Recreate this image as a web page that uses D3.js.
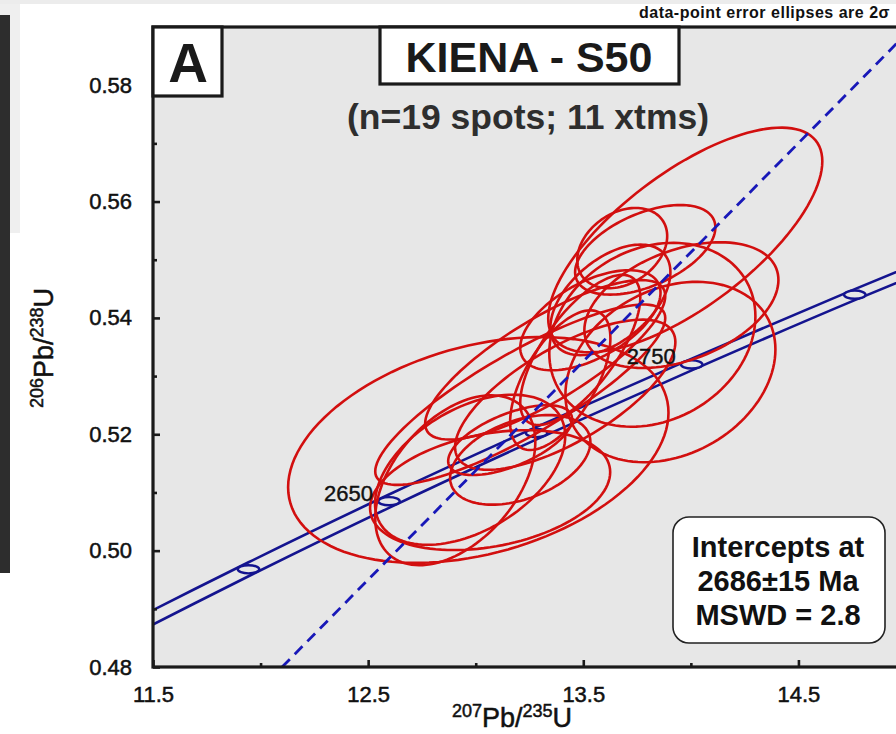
<!DOCTYPE html>
<html>
<head>
<meta charset="utf-8">
<script src="https://cdn.jsdelivr.net/npm/d3@7"></script>
<style>
  body { margin: 0; background: #fff; }
  svg { display: block; font-family: "Liberation Sans", Arial, sans-serif; }
</style>
</head>
<body>
<div id="chart"></div>
<script>
// concordia (age in Ma, 207Pb/235U, 206Pb/238U) and its error band half-width
const concAges = [2550, 2600, 2650, 2700, 2750, 2800, 2850];
const concX = [11.322, 11.944, 12.597, 13.283, 14.004, 14.762, 15.557];
const concY = [0.4852, 0.4968, 0.5085, 0.5202, 0.5320, 0.5440, 0.5560];
const concBand = [0.00125, 0.00120, 0.00114, 0.00107, 0.00101, 0.00095, 0.00090];
const markerAges = [2600, 2650, 2700, 2750, 2800];
const labelAges = [2650, 2750];

// discordia (dashed)
const discX = [12.1, 15.0];
const discY = [0.48, 0.5888];

// data-point error ellipses: centre, half extents, correlation
const ellCx = [13.012, 13.974, 13.788, 13.681, 13.956, 13.905, 13.207, 12.974, 13.067, 13.323,
               13.393, 13.486, 13.416, 13.626, 13.207, 13.160, 13.533, 13.821, 12.905];
const ellCy = [0.5173, 0.5534, 0.5517, 0.5520, 0.5422, 0.5307, 0.5268, 0.5139, 0.5104, 0.5328,
               0.5293, 0.5345, 0.5268, 0.5431, 0.5156, 0.5190, 0.5396, 0.5371, 0.5121];
const ellAx = [0.884, 0.637, 0.326, 0.209, 0.451, 0.488, 0.674, 0.442, 0.558, 0.558,
               0.233, 0.279, 0.512, 0.279, 0.326, 0.288, 0.326, 0.479, 0.372];
const ellAy = [0.0194, 0.0193, 0.0077, 0.0069, 0.0108, 0.0155, 0.0155, 0.0129, 0.0103, 0.0137,
               0.0120, 0.0129, 0.0129, 0.0095, 0.0077, 0.0060, 0.0086, 0.0158, 0.0146];
const ellRho = [0.33, 0.70, 0.50, 0.30, 0.40, 0.25, 0.85, 0.45, 0.30, 0.80,
                0.60, 0.70, 0.70, 0.50, 0.40, 0.60, 0.55, 0.20, 0.45];

const xMajor = [11.5, 12.5, 13.5, 14.5];
const xMinor = [12.0, 13.0, 14.0];
const yMajor = [0.48, 0.50, 0.52, 0.54, 0.56, 0.58];
const yMinor = [0.49, 0.51, 0.53, 0.55, 0.57];

const width = 896;
const height = 734;
const plot = { left: 153, top: 27, right: 906, bottom: 667 };

const svg = d3.select('#chart')
  .append('svg')
  .attr('width', width)
  .attr('height', height);

// screenshot surroundings
svg.append('rect').attr('x', 0).attr('y', 0).attr('width', width).attr('height', 4).attr('fill', '#ececec');
svg.append('rect').attr('x', 0).attr('y', 4).attr('width', 20).attr('height', 229).attr('fill', '#efefef');
svg.append('rect').attr('x', 0).attr('y', 15).attr('width', 10).attr('height', 558).attr('fill', '#2d2d2d');

const x = d3.scaleLinear().domain([11.5, 15.0]).range([plot.left, plot.right]);
const y = d3.scaleLinear().domain([0.48, 0.59]).range([plot.bottom, plot.top]);

svg.append('defs').append('clipPath').attr('id', 'clip')
  .append('rect')
  .attr('x', plot.left).attr('y', plot.top)
  .attr('width', plot.right - plot.left).attr('height', plot.bottom - plot.top);

svg.append('rect')
  .attr('x', plot.left).attr('y', plot.top)
  .attr('width', plot.right - plot.left).attr('height', plot.bottom - plot.top)
  .attr('fill', '#e7e7e7');

const g = svg.append('g').attr('clip-path', 'url(#clip)');

// concordia band
const concPts = concAges.map((a, i) => ({ age: a, x: concX[i], y: concY[i], b: concBand[i] }));
const bandLine = (sign) => d3.line()
  .x(d => x(d.x))
  .y(d => y(d.y + sign * d.b))
  .curve(d3.curveCatmullRom);

g.selectAll('path.band')
  .data([1, -1])
  .join('path')
  .attr('class', 'band')
  .attr('d', s => bandLine(s)(concPts))
  .attr('fill', 'none')
  .attr('stroke', '#14148f')
  .attr('stroke-width', 2.6);

// age markers on the concordia
const markers = concPts.filter(d => markerAges.includes(d.age));
g.selectAll('ellipse.marker')
  .data(markers)
  .join('ellipse')
  .attr('class', 'marker')
  .attr('cx', d => x(d.x))
  .attr('cy', d => y(d.y))
  .attr('rx', x(11.5 + 0.05) - x(11.5))
  .attr('ry', y(0.48) - y(0.48 + 0.0007))
  .attr('fill', '#e7e7e7')
  .attr('stroke', '#14148f')
  .attr('stroke-width', 2.4);

// error ellipses
const ellipses = ellCx.map((cx, i) => ({ cx, cy: ellCy[i], ax: ellAx[i], ay: ellAy[i], rho: ellRho[i] }));
const ellLine = d3.line().x(p => x(p[0])).y(p => y(p[1])).curve(d3.curveLinearClosed);
const steps = d3.range(0, 120).map(k => k / 120 * 2 * Math.PI);

g.selectAll('path.ell')
  .data(ellipses)
  .join('path')
  .attr('class', 'ell')
  .attr('d', e => ellLine(steps.map(t => [
    e.cx + e.ax * Math.cos(t),
    e.cy + e.ay * (e.rho * Math.cos(t) + Math.sqrt(1 - e.rho * e.rho) * Math.sin(t))
  ])))
  .attr('fill', 'none')
  .attr('stroke', '#d20f0f')
  .attr('stroke-width', 2.6);

// discordia
g.append('line')
  .attr('x1', x(discX[0])).attr('y1', y(discY[0]))
  .attr('x2', x(discX[1])).attr('y2', y(discY[1]))
  .attr('stroke', '#1818b8')
  .attr('stroke-width', 2.8)
  .attr('stroke-dasharray', '11,7');

// age labels
svg.selectAll('text.age')
  .data(concPts.filter(d => labelAges.includes(d.age)))
  .join('text')
  .attr('class', 'age')
  .attr('x', d => x(d.x) - 16)
  .attr('y', d => y(d.y))
  .attr('text-anchor', 'end')
  .attr('font-size', 22)
  .attr('fill', '#111')
  .attr('stroke', '#111').attr('stroke-width', 0.4)
  .text(d => d.age);

// axes
svg.append('g')
  .attr('transform', `translate(${plot.left},0)`)
  .call(d3.axisLeft(y).tickValues(yMajor).tickSize(-7).tickPadding(21).tickFormat(d3.format('.2f')));
svg.append('g')
  .attr('transform', `translate(${plot.left},0)`)
  .call(d3.axisLeft(y).tickValues(yMinor).tickSize(-4).tickFormat(''));
svg.append('g')
  .attr('transform', `translate(0,${plot.bottom})`)
  .call(d3.axisBottom(x).tickValues(xMajor).tickSize(-7).tickPadding(19).tickFormat(d3.format('.1f')));
svg.append('g')
  .attr('transform', `translate(0,${plot.bottom})`)
  .call(d3.axisBottom(x).tickValues(xMinor).tickSize(-4).tickFormat(''));

svg.selectAll('.domain').remove();
svg.selectAll('.tick line').attr('stroke', '#1a1a1a').attr('stroke-width', 2.6);
svg.selectAll('.tick text')
  .attr('font-size', 22).attr('fill', '#111')
  .attr('stroke', '#111').attr('stroke-width', 0.5)
  .attr('font-family', '"Liberation Sans", Arial, sans-serif');

// frame
svg.append('rect')
  .attr('x', plot.left).attr('y', plot.top)
  .attr('width', plot.right - plot.left + 10).attr('height', plot.bottom - plot.top)
  .attr('fill', 'none')
  .attr('stroke', '#1a1a1a')
  .attr('stroke-width', 3.2);

// panel letter box
svg.append('rect')
  .attr('x', plot.left).attr('y', plot.top)
  .attr('width', 69).attr('height', 69)
  .attr('fill', '#fff').attr('stroke', '#1a1a1a').attr('stroke-width', 3.2);
svg.append('text')
  .attr('x', 188).attr('y', 82)
  .attr('text-anchor', 'middle')
  .attr('font-size', 55).attr('font-weight', 'bold').attr('fill', '#1a1a1a')
  .text('A');

// title box
svg.append('rect')
  .attr('x', 380).attr('y', plot.top)
  .attr('width', 299).attr('height', 57)
  .attr('fill', '#fff').attr('stroke', '#1a1a1a').attr('stroke-width', 3.2);
svg.append('text')
  .attr('x', 529).attr('y', 72)
  .attr('text-anchor', 'middle')
  .attr('font-size', 43).attr('font-weight', 'bold').attr('fill', '#1a1a1a')
  .text('KIENA - S50');

svg.append('text')
  .attr('x', 528).attr('y', 129)
  .attr('text-anchor', 'middle')
  .attr('font-size', 35.5).attr('font-weight', 'bold').attr('fill', '#2e2e2e')
  .text('(n=19 spots; 11 xtms)');

svg.append('text')
  .attr('x', 890).attr('y', 18)
  .attr('text-anchor', 'end')
  .attr('font-size', 16).attr('font-weight', 'bold').attr('fill', '#111')
  .attr('letter-spacing', 0.5)
  .text('data-point error ellipses are 2σ');

// intercept box
svg.append('rect')
  .attr('x', 673).attr('y', 517)
  .attr('width', 212).attr('height', 126)
  .attr('rx', 16)
  .attr('fill', '#fff').attr('stroke', '#222').attr('stroke-width', 1.6);
svg.selectAll('text.icpt')
  .data(['Intercepts at', '2686±15 Ma', 'MSWD = 2.8'])
  .join('text')
  .attr('class', 'icpt')
  .attr('x', 778)
  .attr('y', (d, i) => 557 + i * 34)
  .attr('text-anchor', 'middle')
  .attr('font-size', 29).attr('font-weight', 'bold').attr('fill', '#111')
  .text(d => d);

// axis titles
const xt = svg.append('text')
  .attr('x', 512).attr('y', 727)
  .attr('text-anchor', 'middle')
  .attr('font-size', 27).attr('fill', '#111')
  .attr('stroke', '#111').attr('stroke-width', 0.5);
xt.append('tspan').attr('font-size', 18).attr('dy', -10).text('207');
xt.append('tspan').attr('dy', 10).text('Pb/');
xt.append('tspan').attr('font-size', 18).attr('dy', -10).text('235');
xt.append('tspan').attr('dy', 10).text('U');

const yt = svg.append('text')
  .attr('transform', 'translate(53,348) rotate(-90)')
  .attr('text-anchor', 'middle')
  .attr('font-size', 27).attr('fill', '#111')
  .attr('stroke', '#111').attr('stroke-width', 0.5);
yt.append('tspan').attr('font-size', 18).attr('dy', -10).text('206');
yt.append('tspan').attr('dy', 10).text('Pb/');
yt.append('tspan').attr('font-size', 18).attr('dy', -10).text('238');
yt.append('tspan').attr('dy', 10).text('U');
</script>
</body>
</html>
